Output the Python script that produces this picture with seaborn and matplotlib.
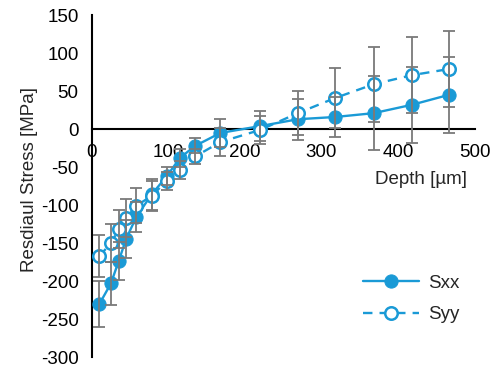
import matplotlib
matplotlib.use("Agg")
import matplotlib.pyplot as plt
import seaborn as sns
import pandas as pd
import numpy as np

depth = [10, 25, 35, 45, 58, 78, 98, 115, 135, 168, 220, 269, 318, 368, 418, 466]
sxx = [-230, -203, -174, -144, -116, -86, -62, -38, -22, -5, 4, 13, 16, 21, 32, 45]
syy = [-167, -150, -132, -117, -101, -88, -68, -54, -36, -17, -1, 21, 41, 59, 71, 79]
sxx_err = [30, 28, 25, 25, 20, 20, 12, 12, 10, 18, 20, 27, 26, 49, 50, 50]
syy_err = [28, 25, 25, 25, 23, 20, 12, 12, 10, 18, 18, 29, 39, 49, 50, 50]

xticks = [0, 100, 200, 300, 400, 500]
yticks = [150, 100, 50, 0, -50, -100, -150, -200, -250, -300]

sns.set_style("white")
plt.rcParams['font.family'] = ['Liberation Sans', 'DejaVu Sans']

blue = '#1a9ad6'
gray = '#7a7a7a'
fs = 13.5

fig = plt.figure(figsize=(4.99, 3.70), dpi=100)
ax = fig.add_axes([0.184, 0.035, 0.767, 0.924])

df = pd.DataFrame({'depth': depth, 'Sxx': sxx, 'Syy': syy})

ax.errorbar(depth, sxx, yerr=sxx_err, fmt='none', ecolor=gray, elinewidth=1.3,
            capsize=4, capthick=1.3, zorder=4)
ax.errorbar(depth, syy, yerr=syy_err, fmt='none', ecolor=gray, elinewidth=1.3,
            capsize=4, capthick=1.3, zorder=4)

sns.lineplot(data=df, x='depth', y='Sxx', ax=ax, color=blue, marker='o',
             markersize=9.5, markerfacecolor=blue, markeredgecolor=blue,
             linewidth=1.7, label='Sxx', zorder=3)
sns.lineplot(data=df, x='depth', y='Syy', ax=ax, color=blue, marker='o',
             markersize=9, markerfacecolor='white', markeredgecolor=blue,
             markeredgewidth=1.8, linestyle=(0, (4, 3)), linewidth=1.7,
             label='Syy', zorder=3)

ax.set_xlim(0, 500)
ax.set_ylim(-300, 150)
ax.set_xticks(xticks)
ax.set_yticks(yticks)
ax.set_xticklabels([str(t) for t in xticks])
ax.set_yticklabels([str(t) for t in yticks])

for s in ['top', 'right']:
    ax.spines[s].set_visible(False)
ax.spines['bottom'].set_position(('data', 0))
for s in ['left', 'bottom']:
    ax.spines[s].set_color('black')
    ax.spines[s].set_linewidth(1.5)
ax.tick_params(axis='both', direction='inout', length=9, width=1.5,
               labelsize=fs, colors='black')
ax.tick_params(axis='y', pad=5)
ax.tick_params(axis='x', pad=6)

ax.set_xlabel('')
ax.set_ylabel('Resdiaul Stress [MPa]', fontsize=fs)
ax.yaxis.set_label_coords(-0.14, 0.52)
ax.text(430, -55, 'Depth [µm]', fontsize=fs, ha='center', va='top')

leg = ax.legend(loc='lower right', bbox_to_anchor=(1.005, 0.05), frameon=False,
                fontsize=fs, handlelength=3.0, handletextpad=0.5, labelspacing=0.75)

fig.savefig('out.png', dpi=100)
